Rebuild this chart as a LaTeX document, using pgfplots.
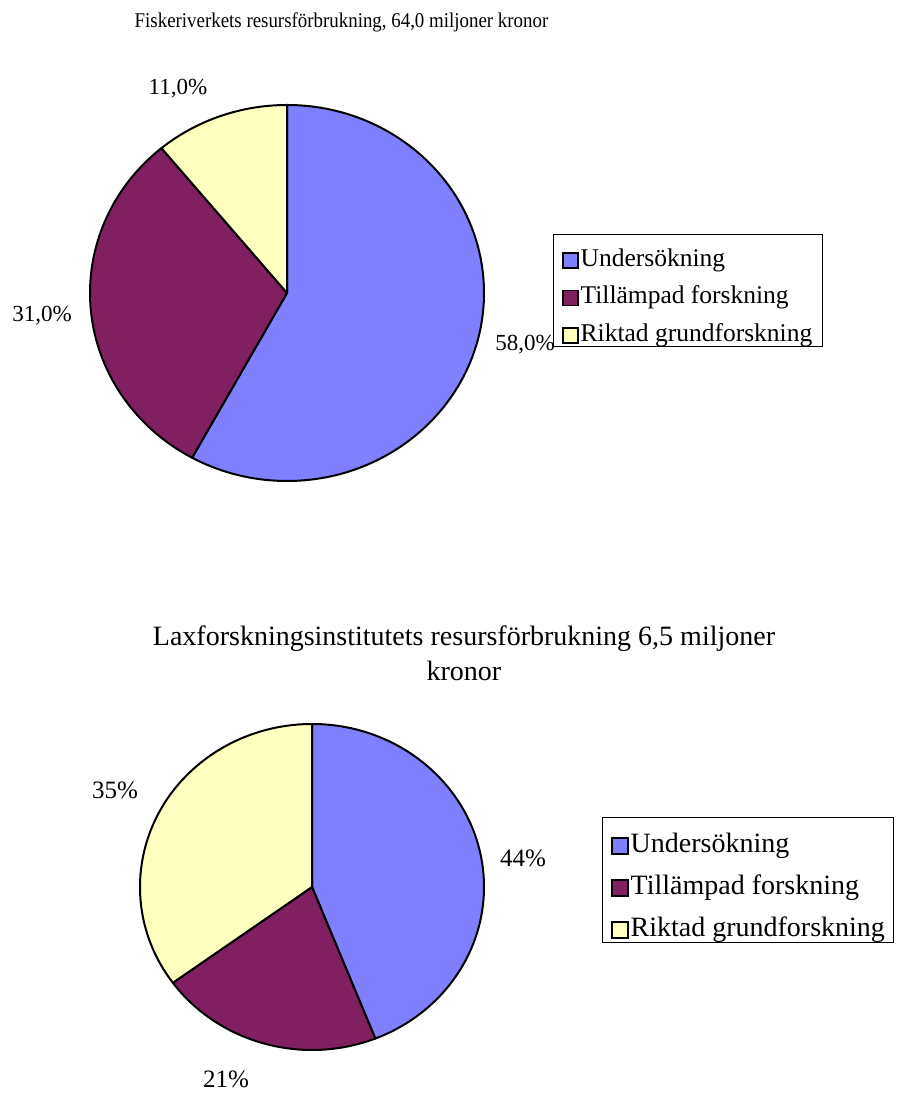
\documentclass[border=0pt]{standalone}
\usepackage{fontspec}
\setmainfont{Liberation Serif}
\usepackage{pgfplots}
\usepackage{pgfplotstable}
\pgfplotsset{compat=1.18}
\definecolor{cU}{RGB}{128,128,255}
\definecolor{cT}{RGB}{128,32,96}
\definecolor{cR}{RGB}{255,255,192}

\pgfplotstableread{
slice value
1 58.0
2 31.0
3 11.0
}\topdata
\pgfplotstableread{
slice value
1 44
2 21
3 35
}\botdata

\newcommand\pieslice[5]{%
  \filldraw[fill=#3,draw=black,line width=2pt,line join=round]
    (axis cs:0,0) -- (axis cs:{cos(#1)},{sin(#1)})
    arc[start angle=#1,end angle=#2,x radius=#4,y radius=#5] -- cycle;}

\begin{document}
\begin{tikzpicture}
\useasboundingbox (0pt,0pt) rectangle (897pt,1093pt);
% angles from the table values
\pgfplotstablegetelem{0}{value}\of\topdata \pgfmathsetmacro\tA{90-3.6*\pgfplotsretval}
\pgfplotstablegetelem{1}{value}\of\topdata \pgfmathsetmacro\tB{\tA-3.6*\pgfplotsretval}
\pgfplotstablegetelem{2}{value}\of\topdata \pgfmathsetmacro\tC{\tB-3.6*\pgfplotsretval}
\pgfplotstablegetelem{0}{value}\of\botdata \pgfmathsetmacro\bA{90-3.6*\pgfplotsretval}
\pgfplotstablegetelem{1}{value}\of\botdata \pgfmathsetmacro\bB{\bA-3.6*\pgfplotsretval}
\pgfplotstablegetelem{2}{value}\of\botdata \pgfmathsetmacro\bC{\bB-3.6*\pgfplotsretval}

\node[font=\fontsize{21}{24}\selectfont] at (341.5pt,1071pt) {\scalebox{0.9}[1]{Fiskeriverkets resursförbrukning, 64,0 miljoner kronor}};
\node[font=\fontsize{28}{35}\selectfont,align=center] at (464pt,439.5pt) {Laxforskningsinstitutets resursförbrukning 6,5 miljoner\\kronor};

\begin{axis}[
  at={(287pt,800pt)}, anchor=origin,
  scale only axis, width=394pt, height=376pt,
  xmin=-1, xmax=1, ymin=-1, ymax=1,
  hide axis, clip=false,
  legend cell align=left,
  legend image code/.code={\draw[#1] (0pt,-7.5pt) rectangle (15pt,7.5pt);},
  legend style={at={(1.1751,0.633)}, anchor=north west, draw=none, fill=none,
    font=\fontsize{25.5}{25.5}\selectfont, row sep=10.5pt, inner xsep=9pt, inner ysep=4pt,
    nodes={inner sep=2pt, text height=17pt, text depth=6pt}},
]
\pieslice{90}{\tA}{cU}{197pt}{188pt}
\pieslice{\tA}{\tB}{cT}{197pt}{188pt}
\pieslice{\tB}{\tC}{cR}{197pt}{188pt}
\draw[black,line width=0.8pt] (rel axis cs:1.1751,0.6569) rectangle (rel axis cs:1.8579,0.3590);
\addlegendimage{fill=cU,draw=black,line width=1.5pt}
\addlegendentry{Undersökning}
\addlegendimage{fill=cT,draw=black,line width=1.5pt}
\addlegendentry{Tillämpad forskning}
\addlegendimage{fill=cR,draw=black,line width=1.5pt}
\addlegendentry{Riktad grundforskning}
\node[font=\fontsize{23}{23}\selectfont] at (axis cs:-0.5533,1.0851) {11,0\%};
\node[font=\fontsize{23}{23}\selectfont] at (axis cs:-1.2437,-0.1223) {31,0\%};
\node[font=\fontsize{23}{23}\selectfont] at (axis cs:1.2081,-0.2766) {58,0\%};
\end{axis}

\begin{axis}[
  at={(312pt,206pt)}, anchor=origin,
  scale only axis, width=344pt, height=326pt,
  xmin=-1, xmax=1, ymin=-1, ymax=1,
  hide axis, clip=false,
  legend cell align=left,
  legend image code/.code={\draw[#1] (0pt,-8pt) rectangle (16pt,8pt);},
  legend style={at={(1.343,0.684)}, anchor=north west, draw=none, fill=none,
    font=\fontsize{28}{28}\selectfont, row sep=12pt, inner xsep=9pt, inner ysep=4pt,
    nodes={inner sep=2pt, text height=19pt, text depth=7pt}},
]
\pieslice{90}{\bA}{cU}{172pt}{163pt}
\pieslice{\bA}{\bB}{cT}{172pt}{163pt}
\pieslice{\bB}{\bC}{cR}{172pt}{163pt}
\draw[black,line width=0.8pt] (rel axis cs:1.343,0.7147) rectangle (rel axis cs:2.189,0.3313);
\addlegendimage{fill=cU,draw=black,line width=1.5pt}
\addlegendentry{Undersökning}
\addlegendimage{fill=cT,draw=black,line width=1.5pt}
\addlegendentry{Tillämpad forskning}
\addlegendimage{fill=cR,draw=black,line width=1.5pt}
\addlegendentry{Riktad grundforskning}
\node[font=\fontsize{25}{25}\selectfont] at (axis cs:-1.1453,0.5951) {35\%};
\node[font=\fontsize{25}{25}\selectfont] at (axis cs:1.2267,0.1779) {44\%};
\node[font=\fontsize{25}{25}\selectfont] at (axis cs:-0.5,-1.1779) {21\%};
\end{axis}
\end{tikzpicture}
\end{document}
